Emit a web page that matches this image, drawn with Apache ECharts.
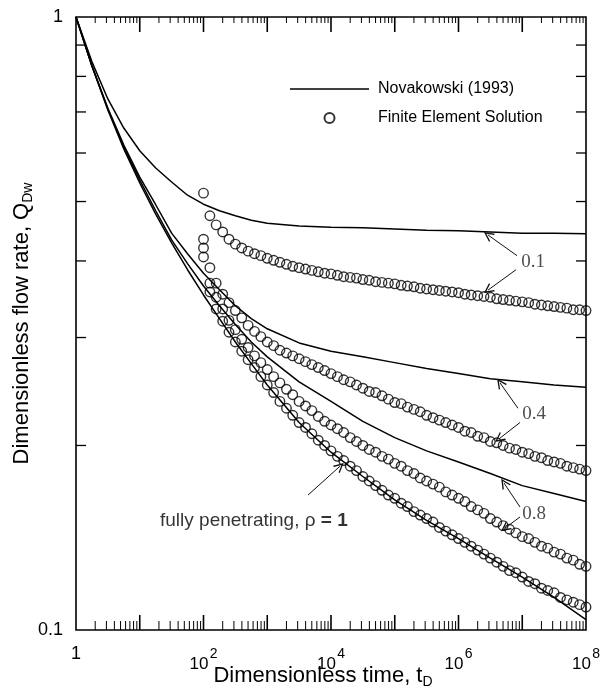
<!DOCTYPE html>
<html>
<head>
<meta charset="utf-8">
<script src="https://cdn.jsdelivr.net/npm/echarts@6/dist/echarts.min.js"></script>
<style>
html, body { margin: 0; padding: 0; background: #fff; }
#main { width: 602px; height: 696px; }
</style>
</head>
<body>
<div id="main"></div>
<script>
// dimensionless time for the Novakowski (1993) curves
var lineTime = [1, 1.78, 3.16, 5.62, 10, 17.8, 31.6, 56.2, 100, 178, 316, 562,
  1e3, 3.16e3, 1e4, 3.16e4, 1e5, 3.16e5, 1e6, 3.16e6, 1e7, 3.16e7, 1e8];
// flow rate, one array per penetration ratio rho
var novak01 = [1, 0.845, 0.735, 0.659, 0.605, 0.567, 0.538, 0.512, 0.495, 0.483, 0.474, 0.466,
  0.461, 0.456, 0.454, 0.453, 0.451, 0.449, 0.448, 0.446, 0.444, 0.444, 0.443];
var novak04 = [1, 0.832, 0.710, 0.618, 0.548, 0.494, 0.444, 0.411, 0.382, 0.359, 0.338, 0.322,
  0.310, 0.294, 0.285, 0.279, 0.273, 0.267, 0.262, 0.257, 0.254, 0.251, 0.249];
var novak08 = [1, 0.832, 0.708, 0.614, 0.542, 0.483, 0.433, 0.396, 0.364, 0.338, 0.315, 0.295,
  0.279, 0.254, 0.236, 0.219, 0.206, 0.196, 0.188, 0.180, 0.172, 0.167, 0.162];
var novak10 = [1, 0.832, 0.705, 0.609, 0.536, 0.477, 0.428, 0.387, 0.352, 0.322, 0.295, 0.272,
  0.251, 0.218, 0.195, 0.178, 0.163, 0.151, 0.141, 0.131, 0.122, 0.113, 0.104];

// finite element output times
var feTime = [
  1e2, 1.26e2, 1.58e2, 2e2, 2.51e2, 3.16e2, 3.98e2, 5.01e2, 6.31e2, 7.94e2,
  1e3, 1.26e3, 1.58e3, 2e3, 2.51e3, 3.16e3, 3.98e3, 5.01e3, 6.31e3, 7.94e3,
  1e4, 1.26e4, 1.58e4, 2e4, 2.51e4, 3.16e4, 3.98e4, 5.01e4, 6.31e4, 7.94e4,
  1e5, 1.26e5, 1.58e5, 2e5, 2.51e5, 3.16e5, 3.98e5, 5.01e5, 6.31e5, 7.94e5,
  1e6, 1.26e6, 1.58e6, 2e6, 2.51e6, 3.16e6, 3.98e6, 5.01e6, 6.31e6, 7.94e6,
  1e7, 1.26e7, 1.58e7, 2e7, 2.51e7, 3.16e7, 3.98e7, 5.01e7, 6.31e7, 7.94e7,
  1e8];
var fe01 = [0.516, 0.474, 0.458, 0.446, 0.434, 0.426, 0.420, 0.415, 0.411, 0.408,
  0.404, 0.401, 0.398, 0.395, 0.392, 0.390, 0.388, 0.386, 0.384, 0.382,
  0.381, 0.379, 0.377, 0.376, 0.375, 0.373, 0.372, 0.370, 0.369, 0.368,
  0.367, 0.365, 0.364, 0.363, 0.361, 0.360, 0.359, 0.358, 0.357, 0.356,
  0.355, 0.353, 0.352, 0.351, 0.350, 0.349, 0.347, 0.346, 0.345, 0.344,
  0.343, 0.342, 0.340, 0.339, 0.338, 0.337, 0.336, 0.335, 0.333, 0.333, 0.332];
var fe04 = [0.434, 0.390, 0.368, 0.353, 0.342, 0.332, 0.323, 0.314, 0.307, 0.301,
  0.295, 0.291, 0.286, 0.283, 0.280, 0.277, 0.274, 0.271, 0.268, 0.265,
  0.262, 0.259, 0.256, 0.254, 0.251, 0.248, 0.245, 0.244, 0.241, 0.238,
  0.235, 0.234, 0.231, 0.229, 0.227, 0.224, 0.222, 0.220, 0.218, 0.216,
  0.214, 0.211, 0.210, 0.207, 0.206, 0.203, 0.202, 0.200, 0.198, 0.197,
  0.195, 0.194, 0.192, 0.191, 0.189, 0.188, 0.187, 0.185, 0.184, 0.183, 0.182];
var fe08 = [0.420, 0.368, 0.349, 0.334, 0.320, 0.309, 0.298, 0.289, 0.280, 0.273,
  0.266, 0.259, 0.253, 0.247, 0.242, 0.236, 0.232, 0.228, 0.223, 0.219,
  0.216, 0.213, 0.210, 0.206, 0.203, 0.200, 0.197, 0.195, 0.192, 0.190,
  0.187, 0.185, 0.182, 0.180, 0.177, 0.175, 0.173, 0.171, 0.168, 0.166,
  0.164, 0.162, 0.159, 0.157, 0.155, 0.152, 0.150, 0.148, 0.146, 0.144,
  0.142, 0.141, 0.139, 0.137, 0.136, 0.134, 0.133, 0.131, 0.130, 0.128, 0.127];
var fe10 = [0.406, 0.356, 0.334, 0.319, 0.306, 0.295, 0.285, 0.276, 0.268, 0.259,
  0.251, 0.244, 0.236, 0.230, 0.224, 0.218, 0.214, 0.209, 0.204, 0.200,
  0.196, 0.192, 0.189, 0.185, 0.182, 0.178, 0.175, 0.172, 0.169, 0.166,
  0.164, 0.161, 0.159, 0.156, 0.154, 0.152, 0.150, 0.147, 0.145, 0.143,
  0.141, 0.139, 0.137, 0.135, 0.133, 0.131, 0.129, 0.127, 0.125, 0.124,
  0.122, 0.120, 0.119, 0.117, 0.116, 0.115, 0.113, 0.112, 0.111, 0.110, 0.109];

// axes
var xMin = 1, xMax = 1e8, yMin = 0.1, yMax = 1;
var xLabelExponents = [0, 2, 4, 6, 8];
var yTickValues = [0.1, 1];
var yTickLabels = ['0.1', '1'];
var decades = [1, 10, 100, 1e3, 1e4, 1e5, 1e6, 1e7];
var minorSteps = [2, 3, 4, 5, 6, 7, 8, 9];
var yMinorTicks = [0.2, 0.3, 0.4, 0.5, 0.6, 0.7, 0.8, 0.9];

var LEG_LINE = 'Novakowski (1993)';
var LEG_FE = 'Finite Element Solution';
var sans = "'Liberation Sans', Arial, sans-serif";
var serif = "'Liberation Serif', 'Times New Roman', serif";

// annotation text, placed in data coordinates
var notes = [
  { name: '0.1', value: [1.475e7, 0.398] },
  { name: '0.4', value: [1.53e7, 0.225] },
  { name: '0.8', value: [1.53e7, 0.1546] }
];
var arrows = [
  [[8.28e6, 0.408], [2.9e6, 0.441]],
  [[7.98e6, 0.387], [2.9e6, 0.3585]],
  [[8.57e6, 0.230], [4.48e6, 0.253]],
  [[9.22e6, 0.218], [4.32e6, 0.205]],
  [[9.22e6, 0.1587], [5.17e6, 0.1737]],
  [[9.22e6, 0.1529], [5.36e6, 0.1466]],
  [[4355, 0.166], [13840, 0.185]]
];
var arrowHead = 'path://M0,10 L5,0 L10,10 L8.5,10 L5,3 L1.5,10 Z';

function pairs(xs, ys) {
  return xs.map(function (x, i) { return [x, ys[i]]; });
}

var xMinor = [], xMajor = [];
decades.forEach(function (d, i) {
  minorSteps.forEach(function (m) { xMinor.push([d * m, yMin]); });
  if (i > 0) xMajor.push([d, yMin]);
});

function xTicks(lenBottom, lenTop, w) {
  return function (params, api) {
    var t = api.value(0);
    var b = api.coord([t, yMin]);
    var tp = api.coord([t, yMax]);
    return {
      type: 'group',
      children: [
        { type: 'line', shape: { x1: b[0], y1: b[1], x2: b[0], y2: b[1] - lenBottom }, style: { stroke: '#000', lineWidth: w } },
        { type: 'line', shape: { x1: tp[0], y1: tp[1], x2: tp[0], y2: tp[1] + lenTop }, style: { stroke: '#000', lineWidth: w } }
      ]
    };
  };
}
function yTicks(params, api) {
  var q = api.value(1);
  var l = api.coord([xMin, q]);
  var r = api.coord([xMax, q]);
  return {
    type: 'group',
    children: [
      { type: 'line', shape: { x1: l[0], y1: l[1], x2: l[0] + 10, y2: l[1] }, style: { stroke: '#000', lineWidth: 1.3 } },
      { type: 'line', shape: { x1: r[0], y1: r[1], x2: r[0] - 10, y2: r[1] }, style: { stroke: '#000', lineWidth: 1.3 } }
    ]
  };
}

function lineSeries(ys) {
  return {
    name: LEG_LINE, type: 'line', data: pairs(lineTime, ys),
    symbol: 'none', showSymbol: false, smooth: false,
    lineStyle: { color: '#000', width: 1.5 }, itemStyle: { color: '#000' },
    silent: true, z: 3
  };
}
function feSeries(ys) {
  return {
    name: LEG_FE, type: 'scatter', data: pairs(feTime, ys),
    symbol: 'circle', symbolSize: 9.5,
    itemStyle: { color: 'rgba(0,0,0,0)', borderColor: '#000', borderWidth: 1.4 },
    silent: true, z: 4
  };
}

function xLabel(v) {
  var e = Math.round(Math.log(v) / Math.LN10);
  if (xLabelExponents.indexOf(e) < 0) return '';
  return e === 0 ? '{one|1}' : '{s|' + e + '}\n{b|10}';
}
function yLabel(v) {
  var best = 0;
  yTickValues.forEach(function (t, i) {
    if (Math.abs(Math.log(v / t)) < Math.abs(Math.log(v / yTickValues[best]))) best = i;
  });
  return yTickLabels[best];
}

var myChart = echarts.init(document.getElementById('main'));
var option = {
  backgroundColor: '#fff',
  animation: false,
  grid: {
    left: 76, right: 16, top: 17, bottom: 66,
    show: true, borderColor: '#000', borderWidth: 1.6, backgroundColor: 'transparent',
    outerBoundsMode: 'none'
  },
  legend: {
    orient: 'vertical', left: 290, top: 80, padding: 0,
    itemWidth: 79, itemHeight: 10, itemGap: 11,
    data: [
      { name: LEG_LINE, icon: 'path://M0,0 L80,0 L80,1.5 L0,1.5 Z' },
      { name: LEG_FE }
    ],
    textStyle: { fontFamily: sans, fontSize: 16, color: '#000', lineHeight: 18, padding: [0, 0, 0, 4] },
    selectedMode: false
  },
  xAxis: {
    type: 'log', logBase: 10, min: xMin, max: xMax,
    axisLine: { show: false }, axisTick: { show: false }, splitLine: { show: false },
    axisLabel: {
      margin: 19, formatter: xLabel, showMinLabel: true, showMaxLabel: true, hideOverlap: false,
      rich: {
        one: { fontFamily: sans, fontSize: 18, color: '#000', lineHeight: 10 },
        s: { fontFamily: sans, fontSize: 14, color: '#000', lineHeight: 10, width: 28, align: 'right' },
        b: { fontFamily: sans, fontSize: 17, color: '#000', lineHeight: 11, width: 28, align: 'left' }
      }
    },
    name: '{n|Dimensionless time, t}{sub|D}',
    nameLocation: 'middle', nameGap: 33, nameMoveOverlap: false,
    nameTextStyle: {
      padding: [0, 16, 0, 0],
      rich: {
        n: { fontFamily: sans, fontSize: 22, color: '#000', lineHeight: 26, verticalAlign: 'middle' },
        sub: { fontFamily: sans, fontSize: 14, color: '#000', lineHeight: 14, verticalAlign: 'bottom' }
      }
    }
  },
  yAxis: {
    type: 'log', logBase: 10, min: yMin, max: yMax,
    axisLine: { show: false }, axisTick: { show: false }, splitLine: { show: false },
    axisLabel: { margin: 13, formatter: yLabel, fontFamily: sans, fontSize: 18, color: '#000', showMinLabel: true, showMaxLabel: true },
    name: '{n|Dimensionless flow rate, Q}{sub|Dw}',
    nameLocation: 'middle', nameGap: 41, nameMoveOverlap: false,
    nameTextStyle: {
      rich: {
        n: { fontFamily: sans, fontSize: 22, color: '#000', lineHeight: 26, verticalAlign: 'middle' },
        sub: { fontFamily: sans, fontSize: 14, color: '#000', lineHeight: 14, verticalAlign: 'bottom' }
      }
    }
  },
  series: [
    lineSeries(novak01), lineSeries(novak04), lineSeries(novak08), lineSeries(novak10),
    feSeries(fe01), feSeries(fe04), feSeries(fe08), feSeries(fe10),
    { type: 'custom', renderItem: xTicks(9, 6, 1), data: xMinor, silent: true, clip: false, z: 5 },
    { type: 'custom', renderItem: xTicks(15, 15, 1.6), data: xMajor, silent: true, clip: false, z: 5 },
    { type: 'custom', renderItem: yTicks, data: yMinorTicks.map(function (q) { return [xMin, q]; }), silent: true, clip: false, z: 5 },
    {
      type: 'scatter', data: notes, symbolSize: 1, silent: true, z: 6,
      itemStyle: { color: 'rgba(0,0,0,0)' },
      label: { show: true, position: 'inside', formatter: '{b}', fontFamily: serif, fontSize: 19, color: '#222' },
      markLine: {
        silent: true, animation: false,
        symbol: ['none', arrowHead], symbolSize: 10,
        lineStyle: { color: '#111', width: 1, type: 'solid' },
        label: { show: false },
        emphasis: { disabled: true },
        data: arrows.map(function (a) { return [{ coord: a[0] }, { coord: a[1] }]; })
      }
    },
    {
      type: 'scatter', data: [{ name: 'rho', value: [20.8, 0.1506] }], symbolSize: 1, silent: true, z: 6,
      itemStyle: { color: 'rgba(0,0,0,0)' },
      label: {
        show: true, position: 'inside', align: 'left',
        formatter: '{a|fully penetrating, \u03c1 }{c|= 1}',
        rich: {
          a: { fontFamily: sans, fontSize: 19, color: '#000' },
          c: { fontFamily: sans, fontSize: 19, color: '#000', fontWeight: 'bold' }
        }
      }
    }
  ]
};
myChart.setOption(option);
window.onresize = myChart.resize;
</script>
</body>
</html>
